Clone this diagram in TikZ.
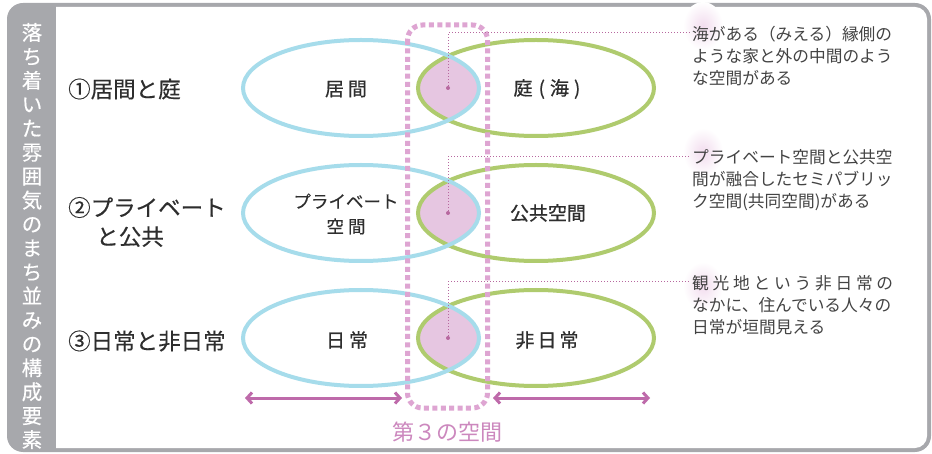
\documentclass[tikz,border=0pt]{standalone}
\usepackage{fontspec}
\setmainfont{Noto Sans CJK JP}
\newfontfamily\medfont[FakeBold=0.7]{Noto Sans CJK JP}
\newfontfamily\semifont[FakeBold=0.35]{Noto Sans CJK JP}
\usetikzlibrary{arrows.meta,shapes.geometric}
\definecolor{framegray}{HTML}{A7A8AC}
\definecolor{cblue}{HTML}{A6DCEB}
\definecolor{cgreen}{HTML}{AFCB6E}
\definecolor{lens}{HTML}{E6C6E1}
\definecolor{dashpink}{HTML}{DEA5D2}
\definecolor{arrowpink}{HTML}{BE6AAA}
\definecolor{dotpink}{HTML}{B7689F}
\definecolor{labpink}{HTML}{CC88BE}
\definecolor{glow}{HTML}{F2DCEE}
\definecolor{txt}{HTML}{2E2E2E}
\tikzset{
  ellblue/.style={ellipse, draw=cblue, line width=4pt, minimum width=236pt, minimum height=96pt, inner sep=0pt},
  ellgreen/.style={ellipse, draw=cgreen, line width=4pt, minimum width=236pt, minimum height=96pt, inner sep=0pt},
  elltext/.style={font=\medfont\fontsize{19}{24}\selectfont, text=txt, align=center, inner sep=0pt},
  rowlab/.style={font=\semifont\fontsize{22.5}{29}\selectfont, text=txt, anchor=west, align=left, inner sep=0pt},
  desc/.style={font=\fontsize{16.7}{22}\selectfont, text=txt!90, anchor=north west, align=left, inner sep=0pt},
  dotnode/.style={circle, fill=dotpink, inner sep=0pt, minimum size=4pt},
  dotline/.style={dotpink, line width=1pt, dash pattern=on 1pt off 2pt},
  twoarrow/.style={arrowpink, line width=3pt, {Straight Barb[length=5pt,width=11pt]}-{Straight Barb[length=5pt,width=11pt]}},
}
\begin{document}
\begin{tikzpicture}[x=1pt,y=-1pt]
\useasboundingbox (0,0) rectangle (932,454);
% frame
\fill[framegray, rounded corners=16pt] (7,3) rectangle (931,452);
\fill[white, rounded corners=12pt] (44,7) rectangle (927,448);
\fill[framegray] (40,5) rectangle (56,450);
% sidebar title
\node[text=white, font=\semifont\fontsize{20.5}{23.95}\selectfont, align=center, inner sep=0pt] (side) at (32,236)
  {落\\ち\\着\\い\\た\\雰\\囲\\気\\の\\ま\\ち\\並\\み\\の\\構\\成\\要\\素};
% row labels
\node[rowlab] (r1) at (68,89) {①居間と庭};
\node[rowlab] (r2) at (68,222) {②プライベート\\\hspace*{1.25em}と公共};
\node[rowlab] (r3) at (68,341) {③日常と非日常};
% glows
\foreach \gy in {26,152,286}{
  \shade[inner color=glow, outer color=white] (703,\gy) ellipse [x radius=20pt, y radius=24pt];
}
% lenses
\foreach \cy in {88,213,338}{
  \begin{scope}
    \clip (361,\cy) ellipse [x radius=118pt, y radius=48pt];
    \fill[lens] (536,\cy) ellipse [x radius=118pt, y radius=48pt];
  \end{scope}
}
% ellipses
\node[ellgreen] (g1) at (536,88) {};
\node[ellblue] (b1) at (361,88) {};
\node[ellgreen] (g2) at (536,213) {};
\node[ellblue] (b2) at (361,213) {};
\node[ellgreen] (g3) at (536,338) {};
\node[ellblue] (b3) at (361,338) {};
% ellipse labels
\node[elltext] (lb1) at (346,89) {居\hspace{4pt}間};
\node[elltext] (lg1) at (547,89) {庭\hspace{6pt}(\hspace{5pt}海\hspace{5pt})};
\node[elltext, font=\semifont\fontsize{17.5}{25}\selectfont] (lb2) at (346,214) {プライベート\\空\hspace{4pt}間};
\node[elltext] (lg2) at (548,213) {公共空間};
\node[elltext] (lb3) at (347,340) {日\hspace{4pt}常};
\node[elltext] (lg3) at (547,340) {非\hspace{3pt}日\hspace{3pt}常};
% third space box
\draw[dashpink, line width=5pt, dash pattern=on 5pt off 3.4pt, rounded corners=15pt] (407.5,25) rectangle (487.5,408);
% dots and leaders
\node[dotnode] (d1) at (448,88) {};
\node[dotnode] (d2) at (448,213) {};
\node[dotnode] (d3) at (448,338) {};
\coordinate (t1) at (690,33);
\coordinate (t2) at (690,157);
\coordinate (t3) at (690,282);
\draw[dotline] (d1) |- (t1);
\draw[dotline] (d2) |- (t2);
\draw[dotline] (d3) |- (t3);
% descriptions
\node[desc] (x1) at (692,26) {海がある（みえる）縁側の\\ような家と外の中間のよう\\な空間がある};
\node[desc] (x2) at (692,149.5) {プライベート空間と公共空\\間が融合したセミパブリッ\\ク空間(共同空間)がある};
\node[desc] (x3) at (692,275.5) {\makebox[201pt][s]{観\hfill 光\hfill 地\hfill と\hfill い\hfill う\hfill 非\hfill 日\hfill 常\hfill の}\\なかに、住んでいる人々の\\日常が垣間見える};
% arrows
\coordinate (a1) at (245,398);
\coordinate (a2) at (402,398);
\coordinate (a3) at (493,398);
\coordinate (a4) at (650,398);
\draw[twoarrow] (a1) -- (a2);
\draw[twoarrow] (a3) -- (a4);
% third space label
\node[text=labpink, font=\fontsize{22}{26}\selectfont, inner sep=0pt] (third) at (447,432) {第３の空間};
\end{tikzpicture}
\end{document}
